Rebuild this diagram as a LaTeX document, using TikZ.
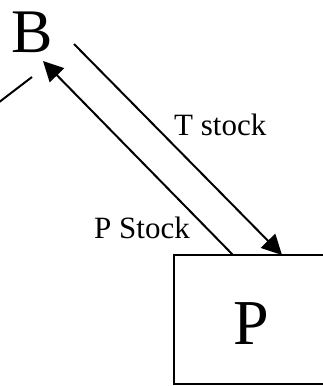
\documentclass[tikz,border=0pt]{standalone}
\usepackage{fontspec}
\setmainfont{Liberation Serif}
\usetikzlibrary{arrows.meta}
\begin{document}
\begin{tikzpicture}[x=1pt,y=-1pt,
  conn/.style={line width=2pt},
  arr/.style={conn,-{Triangle[length=20pt,width=20pt]}},
  lbl/.style={font=\fontsize{31}{31}\selectfont,inner sep=0pt},
  big/.style={font=\fontsize{62}{62}\selectfont,inner sep=0pt},
  boxnode/.style={draw,line width=2pt,minimum width=155pt,minimum height=129pt,
    font=\fontsize{64}{64}\selectfont,text height=49pt,text depth=0pt,inner sep=0pt}]
\useasboundingbox (0,0) rectangle (322,386);
\node[big,anchor=base] (b) at (32.5,52) {B};
\node[boxnode] (p) at (251.5,319.5) {P};
\node[lbl,anchor=base west] (tl) at (174,135) {T stock};
\node[lbl,anchor=base west] (pl) at (94,238) {P Stock};
\coordinate (bt) at (43,61);
\coordinate (bs) at (74,44);
\coordinate (ps) at (233,255);
\coordinate (pt) at (282,255);
\coordinate (l0) at (-2,103);
\coordinate (l1) at (32,77);
\draw[arr] (ps) -- (bt);
\draw[arr] (bs) -- (pt);
\draw[conn] (l0) -- (l1);
\end{tikzpicture}
\end{document}
